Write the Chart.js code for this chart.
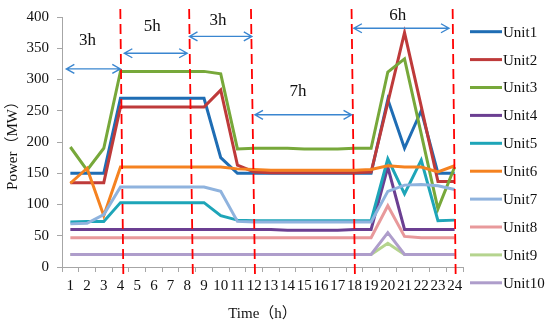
<!DOCTYPE html>
<html>
<head>
<meta charset="utf-8">
<script src="https://cdn.jsdelivr.net/npm/chart.js@4.4.0/dist/chart.umd.min.js"></script>
<style>
  html, body { margin: 0; padding: 0; background: #fff; }
  #wrap { width: 550px; height: 324px; }
</style>
</head>
<body>
<div id="wrap"><canvas id="myChart" width="550" height="324"></canvas></div>
<script>
// hours of the day
const hours = ['1','2','3','4','5','6','7','8','9','10','11','12',
               '13','14','15','16','17','18','19','20','21','22','23','24'];

// output of each unit (MW)
const unit1  = [150,150,150,270,270,270,270,270,270,175,150,150,150,150,150,150,150,150,150,268,190,250,150,150];
const unit2  = [135,135,135,256,256,256,256,256,256,283,163,152,151,151,151,151,151,151,152,263,375,257,137,137];
const unit3  = [192,155,190,313,313,313,313,313,313,309,189,190,190,190,189,189,189,190,190,312,333,213,93,160];
const unit4  = [60,60,60,60,60,60,60,60,60,60,60,60,60,59,59,59,59,60,60,160,60,60,60,60];
const unit5  = [72,73,73,103,103,103,103,103,103,82,75,74,74,74,74,74,74,74,74,173,117,171,74,75];
const unit6  = [134,158,82,160,160,160,160,160,160,160,157,156,155,155,155,155,155,155,156,162,160,160,152,162];
const unit7  = [69,70,84,128,128,128,128,128,128,121,73,72,72,72,72,72,72,72,72,121,131,132,130,124];
const unit8  = [47,47,47,47,47,47,47,47,47,47,47,47,47,47,47,47,47,47,47,98,49,47,47,47];
const unit9  = [20,20,20,20,20,20,20,20,20,20,20,20,20,20,20,20,20,20,20,38,20,20,20,20];
const unit10 = [20,20,20,20,20,20,20,20,20,20,20,20,20,20,20,20,20,20,20,55,20,20,20,20];

const unitNames = ['Unit1','Unit2','Unit3','Unit4','Unit5','Unit6','Unit7','Unit8','Unit9','Unit10'];
const unitValues = [unit1, unit2, unit3, unit4, unit5, unit6, unit7, unit8, unit9, unit10];
const unitColors = ['#1f6db4','#be3a3a','#77a83a','#6b3f92','#1ea5b8',
                    '#f58220','#8fb3de','#e8999b','#b5d48e','#ae9dcb'];

// red dashed period borders, in hours (top end / bottom end)
const borderHours = [
  { top: 3.99, bottom: 4.17 },
  { top: 8.11, bottom: 8.33 },
  { top: 11.81, bottom: 12.05 },
  { top: 17.83, bottom: 18.03 },
  { top: 23.88, bottom: 24.06 }
];
// double arrows with their duration text
const periods = [
  { from: 0.76, to: 3.99, at: 317, text: '3h', textHour: 2.02, textAt: 363 },
  { from: 4.23, to: 7.99, at: 342, text: '5h', textHour: 5.9, textAt: 384 },
  { from: 8.13, to: 11.86, at: 369, text: '3h', textHour: 9.84, textAt: 395 },
  { from: 12.05, to: 17.83, at: 243.5, text: '7h', textHour: 14.62, textAt: 280 },
  { from: 17.97, to: 23.66, at: 382, text: '6h', textHour: 20.6, textAt: 403 }
];

const serif = "'Liberation Serif', 'Noto Sans CJK SC', serif";
Chart.defaults.font.family = serif;
Chart.defaults.color = '#111';

const periodPlugin = {
  id: 'periods',
  afterDatasetsDraw(chart) {
    const { ctx, chartArea } = chart;
    const x = chart.scales.x, y = chart.scales.y;
    const hx = h => x.getPixelForValue(h - 1);
    ctx.save();
    // dashed borders
    ctx.strokeStyle = '#ff0000';
    ctx.lineWidth = 1.8;
    ctx.setLineDash([10, 5]);
    borderHours.forEach(b => {
      ctx.beginPath();
      ctx.moveTo(hx(b.top), chartArea.top - 8);
      ctx.lineTo(hx(b.bottom), chartArea.bottom + 8);
      ctx.stroke();
    });
    ctx.setLineDash([]);
    // arrows
    ctx.strokeStyle = '#3a86d0';
    ctx.lineWidth = 1.4;
    periods.forEach(p => {
      const x1 = hx(p.from), x2 = hx(p.to), py = y.getPixelForValue(p.at);
      ctx.beginPath();
      ctx.moveTo(x1, py); ctx.lineTo(x2, py);
      ctx.moveTo(x1 + 8, py - 4.5); ctx.lineTo(x1, py); ctx.lineTo(x1 + 8, py + 4.5);
      ctx.moveTo(x2 - 8, py - 4.5); ctx.lineTo(x2, py); ctx.lineTo(x2 - 8, py + 4.5);
      ctx.stroke();
    });
    ctx.fillStyle = '#111';
    ctx.font = '17px ' + serif;
    ctx.textAlign = 'center';
    ctx.textBaseline = 'middle';
    periods.forEach(p => {
      ctx.fillText(p.text, hx(p.textHour), y.getPixelForValue(p.textAt));
    });
    ctx.restore();
  }
};

const sideLegend = {
  id: 'sideLegend',
  afterDraw(chart) {
    const { ctx, chartArea } = chart;
    const x0 = chartArea.right + 7;
    ctx.save();
    ctx.font = '15px ' + serif;
    ctx.textBaseline = 'middle';
    ctx.textAlign = 'left';
    chart.data.datasets.forEach((ds, i) => {
      const ly = 31.7 + i * 27.9;
      ctx.strokeStyle = ds.borderColor;
      ctx.lineWidth = 3;
      ctx.beginPath();
      ctx.moveTo(x0, ly);
      ctx.lineTo(x0 + 32, ly);
      ctx.stroke();
      ctx.fillStyle = '#111';
      ctx.fillText(ds.label, x0 + 33, ly + 1);
    });
    ctx.restore();
  }
};

const ctx = document.getElementById('myChart').getContext('2d');
const myChart = new Chart(ctx, {
  type: 'line',
  data: {
    labels: hours,
    datasets: unitNames.map((name, i) => ({
      label: name,
      data: unitValues[i],
      borderColor: unitColors[i],
      backgroundColor: unitColors[i],
      borderWidth: 3,
      pointRadius: 0,
      tension: 0,
      fill: false,
      order: 10 - i
    }))
  },
  options: {
    responsive: false,
    animation: false,
    layout: { padding: { top: 12, right: 87, left: 0, bottom: 0 } },
    plugins: {
      legend: { display: false },
      tooltip: { enabled: false }
    },
    scales: {
      x: {
        offset: true,
        afterFit: s => { s.height = 57; },
        grid: { offset: true, drawOnChartArea: false, drawTicks: true, tickLength: 5, color: '#a6a6a6' },
        border: { color: '#a6a6a6', width: 1 },
        ticks: { autoSkip: false, maxRotation: 0, padding: 5, font: { size: 15 } },
        title: { display: true, text: 'Time（h）', font: { size: 15 }, padding: { top: 2, bottom: 1 } }
      },
      y: {
        min: 0,
        max: 400,
        afterFit: s => { s.width = 62; },
        grid: { drawOnChartArea: false, drawTicks: true, tickLength: 5, color: '#a6a6a6' },
        border: { color: '#a6a6a6', width: 1 },
        ticks: { stepSize: 50, padding: 8, font: { size: 15 } },
        title: { display: true, text: 'Power（MW）', font: { size: 15 }, padding: 4 }
      }
    }
  },
  plugins: [periodPlugin, sideLegend]
});
</script>
</body>
</html>
